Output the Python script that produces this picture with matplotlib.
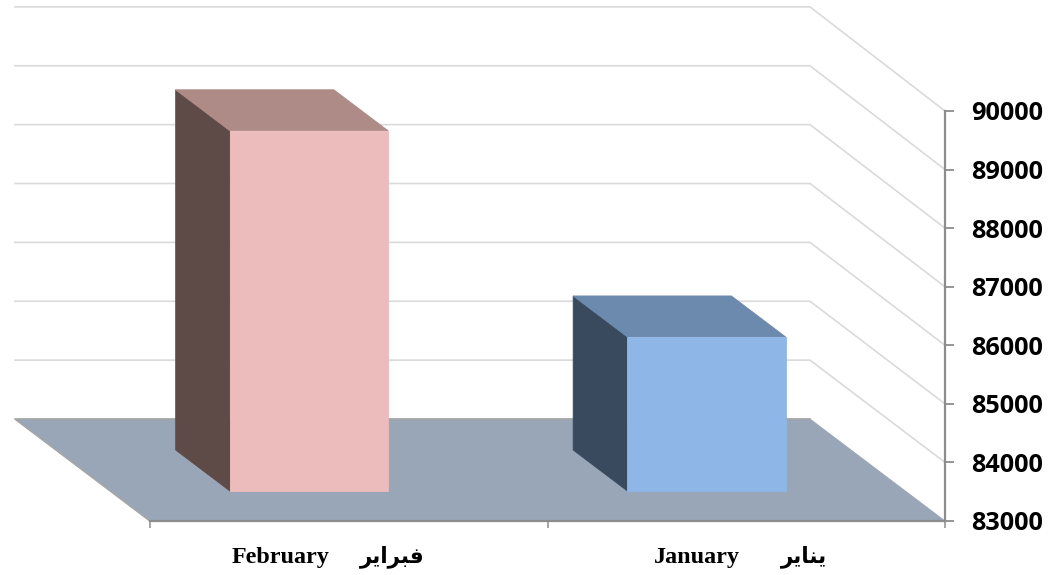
import matplotlib
matplotlib.use("Agg")
import matplotlib.pyplot as plt
from matplotlib.patches import Polygon
from matplotlib.transforms import Affine2D

categories = ["February", "January"]
arabic_labels = ["\uFEAE\uFEF3\uFE8D\uFEAE\uFE92\uFED3", "\uFEAE\uFEF3\uFE8E\uFEE8\uFEF3"]  # فبراير / يناير
values = [89150, 85630]
y_ticks = [83000, 84000, 85000, 86000, 87000, 88000, 89000, 90000]

W, H = 1050, 575
fig = plt.figure(figsize=(W / 100, H / 100), dpi=100, facecolor="white")
ax = fig.add_axes([150 / W, 1 - 521 / H, (945 - 150) / W, (521 - 111) / H])
ax.set_xlim(0, len(categories))
ax.set_ylim(y_ticks[0], y_ticks[-1])
ax.patch.set_visible(False)

DX, DY = -135, 102   # pixel shift of full chart depth


def depth_tf(d):
    return ax.transData + Affine2D().translate(DX * d, DY * d)


def face(pts_front, colour, z):
    """pts_front: list of (x, value, depth) corners."""
    disp = [depth_tf(d).transform((x, v)) for x, v, d in pts_front]
    p = Polygon(disp, closed=True, transform=None, facecolor=colour,
                edgecolor=colour, linewidth=0.6, zorder=z, clip_on=False)
    fig.add_artist(p)
    return p


n = len(categories)
base = y_ticks[0]

# walls' gridlines
for t in y_ticks[1:]:
    a = depth_tf(0).transform((n, t))
    b = depth_tf(1).transform((n, t))
    c = depth_tf(1).transform((0, t))
    b[1] += (t - base) / 1000 * 0.3
    c[1] += (t - base) / 1000 * 0.3
    fig.add_artist(plt.Line2D([a[0], b[0], c[0]], [a[1], b[1], c[1]], transform=None,
                              color="#DADADA", lw=1.2, zorder=1, clip_on=False))
# floor
face([(0, base, 0), (n, base, 0), (n, base, 1), (0, base, 1)], "#98A6B8", 2)
p0 = depth_tf(0).transform((0, base))
p1 = depth_tf(1).transform((0, base))
p2 = depth_tf(1).transform((n, base))
fig.add_artist(plt.Line2D([p0[0], p1[0], p2[0]], [p0[1], p1[1], p2[1]], transform=None,
                          color="#A6A6A6", lw=1.2, zorder=2.5))

# bars
bar_w = 0.398
d_front, d_back = 30 / 102, 71 / 102
colours = [("#ECBBBB", "#AF8B87", "#5E4B48"), ("#8EB6E6", "#6C89AE", "#3A4A5E")]
for i, v in enumerate(values):
    l, r = i + 0.5 - bar_w / 2, i + 0.5 + bar_w / 2
    front, top, side = colours[i]
    face([(l, base, d_back), (l, v, d_back), (l, v, d_front), (l, base, d_front)], side, 3)
    face([(l, v, d_front), (r, v, d_front), (r, v, d_back), (l, v, d_back)], top, 3)
    face([(l, base, d_front), (r, base, d_front), (r, v, d_front), (l, v, d_front)], front, 3)

# axes
for s in ("left", "top"):
    ax.spines[s].set_visible(False)
for s in ("right", "bottom"):
    ax.spines[s].set_color("#8C8C8C")
    ax.spines[s].set_linewidth(1.6)
    ax.spines[s].set_zorder(6)
ax.yaxis.tick_right()
ax.set_yticks(y_ticks)
ax.set_yticklabels([str(t) for t in y_ticks], fontfamily="Open Sans", fontweight="bold",
                   fontsize=18.2, color="black")
ax.tick_params(axis="y", length=6.5, width=1.3, color="#8C8C8C", pad=12.5)
ax.set_xticks(range(n + 1))
ax.set_xticklabels([])
ax.tick_params(axis="x", length=5, width=1.1, color="#8C8C8C")
ax.set_zorder(5)

# category labels
latin_off = [-68.5, -49.5]
arabic_off = [44, 58]
for i in range(n):
    ax.annotate(categories[i], (i + 0.5, 0), xycoords=("data", "axes fraction"),
                xytext=(latin_off[i] * 0.72, -26), textcoords="offset points",
                ha="center", va="center", family="Liberation Serif", weight="bold",
                fontsize=17.4, color="black", annotation_clip=False)
    ax.annotate(arabic_labels[i], (i + 0.5, 0), xycoords=("data", "axes fraction"),
                xytext=(arabic_off[i] * 0.72, -26), textcoords="offset points",
                ha="center", va="center", family="DejaVu Sans", weight="bold",
                fontsize=15.5, color="black", annotation_clip=False)

fig.savefig("out.png", dpi=100)
